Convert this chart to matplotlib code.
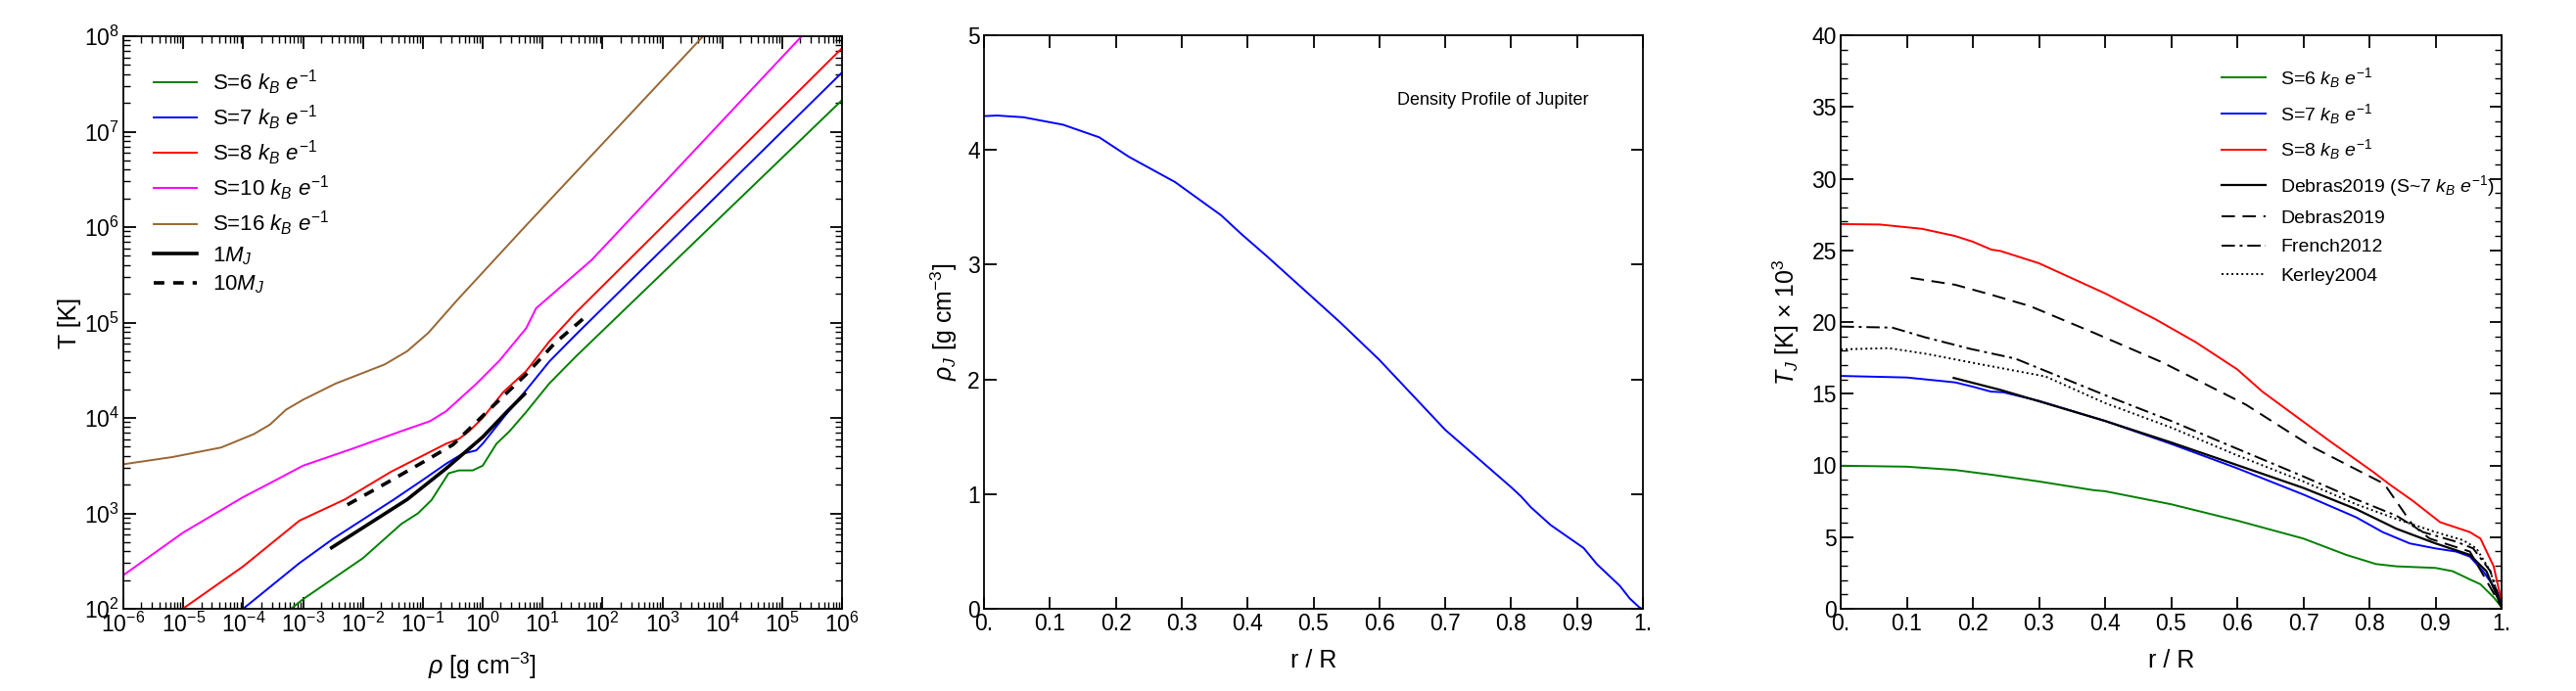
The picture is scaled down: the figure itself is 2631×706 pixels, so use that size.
import matplotlib
matplotlib.use("Agg")
import matplotlib.pyplot as plt
from matplotlib.ticker import LogLocator, MultipleLocator, FuncFormatter, NullFormatter
import numpy as np

plt.rcParams['font.family'] = ['Liberation Sans', 'DejaVu Sans']
plt.rcParams['mathtext.fontset'] = 'custom'
plt.rcParams['mathtext.rm'] = 'Liberation Sans'
plt.rcParams['mathtext.it'] = 'Liberation Sans:italic'
plt.rcParams['mathtext.bf'] = 'Liberation Sans:bold'
plt.rcParams['axes.linewidth'] = 1.3

# ---- left panel: isentropes, rho [g/cc] vs T [K] ----
s6_rho = [6.3e-4, 1e-3, 1e-2, 4.4e-2, 8.3e-2, 0.14, 0.27, 0.40, 0.68, 1.0, 1.7, 2.8, 5.3, 12.9, 35.5, 1e6]
s6_T = [100, 126, 339, 776, 1000, 1380, 2630, 2820, 2820, 3160, 5370, 7240, 11500, 22900, 43700, 2.14e7]

s7_rho = [1e-4, 8.7e-4, 3.2e-3, 3.3e-2, 0.1, 0.245, 0.46, 0.78, 1.0, 2.2, 5.3, 12.9, 35.5, 1e6]
s7_T = [100, 301, 543, 1400, 2240, 3310, 4210, 4570, 5370, 1.0e4, 19500, 38900, 74100, 4.17e7]

s8_rho = [9.8e-6, 1e-4, 8.7e-4, 5e-3, 2.95e-2, 0.1, 0.245, 0.4, 0.59, 1.0, 2.2, 5.3, 12.9, 35.5, 1e6]
s8_T = [100, 278, 838, 1400, 2730, 4030, 5370, 6030, 7240, 1.0e4, 18600, 30900, 63100, 1.26e5, 7.5e7]

s10_rho = [1e-6, 1e-5, 1e-4, 2.8e-4, 1e-3, 6.5e-3, 4.3e-2, 0.132, 0.245, 0.79, 1.9, 5.3, 7.8, 66, 2.12e5]
s10_T = [225, 630, 1480, 2070, 3160, 4730, 7240, 9250, 11750, 22900, 39800, 86700, 1.41e5, 4.52e5, 1e8]

s16_rho = [1e-6, 6.6e-6, 4.3e-5, 1.5e-4, 2.8e-4, 5.2e-4, 1e-3, 3.5e-3, 2.3e-2, 5.5e-2, 0.123, 0.162, 0.37, 5.0, 4.8e3]
s16_T = [3270, 3890, 4900, 6760, 8510, 12200, 15500, 22900, 36300, 50100, 77600, 94400, 1.70e5, 1.0e6, 1.0e8]

mj1_rho = [3.0e-3, 5.5e-2, 0.245, 1.0, 2.5, 5.0]
mj1_T = [437, 1400, 2950, 6310, 11500, 17800]

mj10_rho = [5.5e-3, 2.5e-2, 0.1, 0.32, 1.0, 5.2, 15.8, 59]
mj10_T = [1230, 2090, 3430, 5250, 10500, 28200, 60300, 1.23e5]

# ---- middle panel: density profile of Jupiter ----
r_dens = [0, 0.02, 0.06, 0.12, 0.16, 0.175, 0.22, 0.29, 0.36, 0.39, 0.43, 0.54, 0.6, 0.7,
          0.8, 0.815, 0.83, 0.86, 0.91, 0.93, 0.965, 0.98, 0.995, 1.0]
rho_J = [4.295, 4.30, 4.285, 4.22, 4.14, 4.11, 3.94, 3.72, 3.43, 3.27, 3.07, 2.50, 2.17, 1.56,
         1.06, 0.98, 0.885, 0.73, 0.53, 0.39, 0.20, 0.09, 0.01, 0.0]

# ---- right panel: temperature profiles (x 10^3 K) ----
r_s6 = [0, 0.1, 0.173, 0.23, 0.3, 0.383, 0.4, 0.5, 0.6, 0.7, 0.765, 0.81, 0.841, 0.9, 0.926, 0.952, 0.968, 0.988, 1.0]
T_s6 = [9.98, 9.91, 9.68, 9.34, 8.88, 8.27, 8.2, 7.29, 6.15, 4.9, 3.76, 3.12, 2.96, 2.85, 2.62, 2.05, 1.71, 0.8, 0.11]

r_s7 = [0, 0.1, 0.173, 0.2, 0.227, 0.246, 0.3, 0.4, 0.5, 0.6, 0.7, 0.78, 0.82, 0.861, 0.9, 0.931, 0.952, 0.972, 0.993, 1.0]
T_s7 = [16.24, 16.13, 15.79, 15.49, 15.15, 15.1, 14.5, 13.1, 11.5, 9.8, 7.97, 6.38, 5.35, 4.56, 4.21, 3.99, 3.64, 2.62, 1.25, 0.34]

r_s8 = [0, 0.059, 0.123, 0.173, 0.2, 0.228, 0.242, 0.3, 0.4, 0.476, 0.537, 0.6, 0.638, 0.739, 0.805, 0.831,
        0.866, 0.907, 0.952, 0.968, 0.988, 1.0]
T_s8 = [26.83, 26.8, 26.5, 26.0, 25.6, 25.05, 24.95, 24.1, 22.0, 20.2, 18.6, 16.7, 15.15, 11.73, 9.57, 8.66,
        7.52, 6.04, 5.35, 4.9, 2.96, 0.5]

r_deb_s7 = [0.171, 0.242, 0.301, 0.4, 0.5, 0.6, 0.7, 0.78, 0.841, 0.9, 0.952, 0.977, 1.0]
T_deb_s7 = [16.1, 15.26, 14.46, 13.1, 11.6, 10.02, 8.43, 6.95, 5.58, 4.56, 3.76, 2.62, 0.11]

r_deb = [0.106, 0.173, 0.228, 0.287, 0.383, 0.486, 0.613, 0.714, 0.82, 0.825, 0.866, 0.891, 0.952, 1.0]
T_deb = [23.08, 22.6, 21.9, 21.1, 19.25, 17.2, 14.24, 11.28, 8.77, 8.54, 5.81, 4.9, 3.99, 0.11]

r_french = [0, 0.078, 0.128, 0.196, 0.264, 0.4, 0.5, 0.6, 0.7, 0.78, 0.841, 0.881, 0.932, 0.957, 0.983, 1.0]
T_french = [19.68, 19.61, 18.93, 18.13, 17.45, 14.9, 13.1, 11.16, 9.23, 7.63, 6.49, 5.35, 4.67, 4.21, 2.62, 0.11]

r_kerley = [0, 0.073, 0.128, 0.219, 0.31, 0.4, 0.5, 0.6, 0.7, 0.78, 0.841, 0.9, 0.942, 0.962, 0.983, 1.0]
T_kerley = [18.09, 18.18, 17.79, 16.99, 16.2, 14.35, 12.64, 10.7, 8.88, 7.29, 6.26, 5.35, 4.78, 4.21, 2.62, 0.11]

W, H = 2631, 706
fig = plt.figure(figsize=(W / 100, H / 100), dpi=100)


def box(x0, y0, x1, y1):
    return [x0 / W, 1 - y1 / H, (x1 - x0) / W, (y1 - y0) / H]


def style(ax):
    ax.tick_params(which='both', direction='in', top=True, right=True, labelsize=16.5, pad=3)
    ax.tick_params(which='major', length=9, width=1.3)
    ax.tick_params(which='minor', length=5, width=1.0)


def frac_fmt(v, pos):
    if abs(v) < 1e-9:
        return '0.'
    if abs(v - 1) < 1e-9:
        return '1.'
    return '%.1f' % v


# left
ax1 = fig.add_axes(box(126, 37, 860, 622))
ax1.plot(s6_rho, s6_T, color='#008000', lw=1.4, label=r'S=6 $k_B$ $e^{-1}$')
ax1.plot(s7_rho, s7_T, color='#0000ff', lw=1.4, label=r'S=7 $k_B$ $e^{-1}$')
ax1.plot(s8_rho, s8_T, color='#ff0000', lw=1.4, label=r'S=8 $k_B$ $e^{-1}$')
ax1.plot(s10_rho, s10_T, color='#ff00ff', lw=1.4, label=r'S=10 $k_B$ $e^{-1}$')
ax1.plot(s16_rho, s16_T, color='#996633', lw=1.4, label=r'S=16 $k_B$ $e^{-1}$')
ax1.plot(mj1_rho, mj1_T, color='black', lw=2.6, label=r'1$M_J$')
ax1.plot(mj10_rho, mj10_T, color='black', lw=2.6, ls=(0, (3, 2.5)), label=r'10$M_J$')
ax1.set_xscale('log')
ax1.set_yscale('log')
ax1.set_xlim(1e-6, 1e6)
ax1.set_ylim(1e2, 1e8)
ax1.xaxis.set_major_locator(LogLocator(base=10, numticks=20))
ax1.xaxis.set_minor_locator(LogLocator(base=10, subs=np.arange(2, 10), numticks=200))
ax1.xaxis.set_minor_formatter(NullFormatter())
ax1.yaxis.set_minor_formatter(NullFormatter())
style(ax1)
ax1.set_xlabel(r'$\rho$ [g cm$^{-3}$]', fontsize=18)
ax1.set_ylabel('T [K]', fontsize=18)
ax1.xaxis.set_label_coords(0.5, -0.072)
ax1.yaxis.set_label_coords(-0.058, 0.5)
ax1.legend(loc='upper left', bbox_to_anchor=(0.03, 0.96), frameon=False, fontsize=16,
           handlelength=2.0, handletextpad=0.7, labelspacing=0.3, borderaxespad=0)

# middle
ax2 = fig.add_axes(box(1005, 36, 1678, 622))
ax2.plot(r_dens, rho_J, color='#0000ff', lw=1.4)
ax2.set_xlim(0, 1)
ax2.set_ylim(0, 5)
ax2.xaxis.set_major_locator(MultipleLocator(0.1))
ax2.yaxis.set_major_locator(MultipleLocator(1))
ax2.xaxis.set_major_formatter(FuncFormatter(frac_fmt))
style(ax2)
ax2.set_xlabel('r / R', fontsize=18)
ax2.set_ylabel(r'$\rho_J$ [g cm$^{-3}$]', fontsize=18)
ax2.xaxis.set_label_coords(0.5, -0.07)
ax2.yaxis.set_label_coords(-0.037, 0.5)
ax2.text(0.773, 0.887, 'Density Profile of Jupiter', transform=ax2.transAxes,
         fontsize=13, ha='center', va='center')

# right
ax3 = fig.add_axes(box(1880, 36, 2555, 622))
ax3.plot(r_s6, T_s6, color='#008000', lw=1.4, label=r'S=6 $k_B$ $e^{-1}$')
ax3.plot(r_s7, T_s7, color='#0000ff', lw=1.4, label=r'S=7 $k_B$ $e^{-1}$')
ax3.plot(r_s8, T_s8, color='#ff0000', lw=1.4, label=r'S=8 $k_B$ $e^{-1}$')
ax3.plot(r_deb_s7, T_deb_s7, color='black', lw=1.6, label=r'Debras2019 (S~7 $k_B$ $e^{-1}$)')
ax3.plot(r_deb, T_deb, color='black', lw=1.4, ls=(0, (7, 4)), label='Debras2019')
ax3.plot(r_french, T_french, color='black', lw=1.4, ls=(0, (7, 2.5, 1.5, 2.5)), label='French2012')
ax3.plot(r_kerley, T_kerley, color='black', lw=1.4, ls=(0, (1, 1.6)), label='Kerley2004')
ax3.set_xlim(0, 1)
ax3.set_ylim(0, 40)
ax3.xaxis.set_major_locator(MultipleLocator(0.1))
ax3.yaxis.set_major_locator(MultipleLocator(5))
ax3.yaxis.set_minor_locator(MultipleLocator(1))
ax3.xaxis.set_major_formatter(FuncFormatter(frac_fmt))
style(ax3)
ax3.set_xlabel('r / R', fontsize=18)
ax3.set_ylabel(r'$T_J$ [K] $\times$ 10$^3$', fontsize=18)
ax3.xaxis.set_label_coords(0.5, -0.07)
ax3.yaxis.set_label_coords(-0.059, 0.5)
ax3.legend(loc='upper left', bbox_to_anchor=(0.565, 0.96), frameon=False, fontsize=14,
           handlelength=2.3, handletextpad=0.8, labelspacing=0.6, borderaxespad=0)

fig.savefig('out.png', dpi=100)
